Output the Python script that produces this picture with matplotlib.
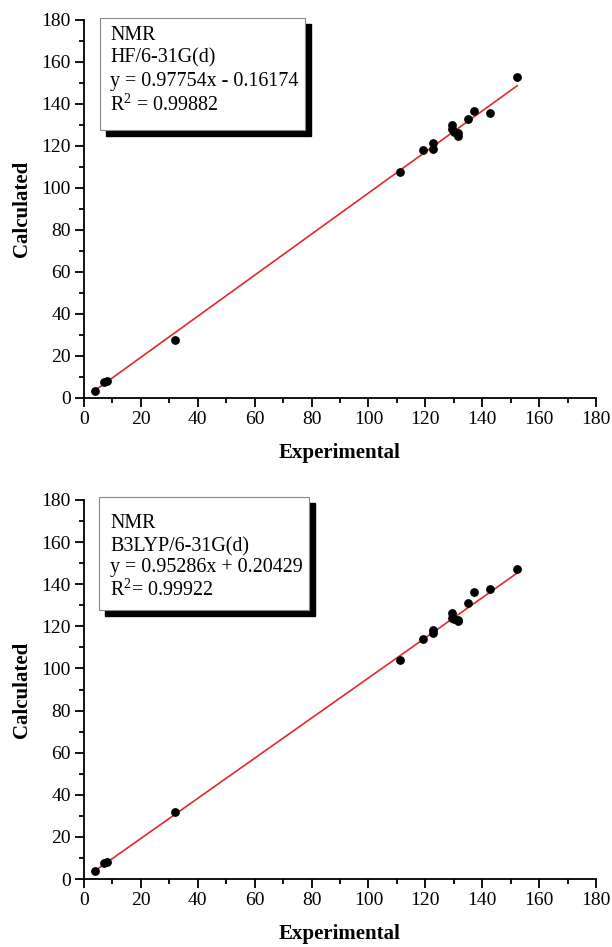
import matplotlib
matplotlib.use("Agg")
import matplotlib.pyplot as plt
import numpy as np
from matplotlib.patches import Rectangle
from matplotlib.ticker import MultipleLocator

plt.rcParams['font.family'] = ['Liberation Serif', 'DejaVu Serif']
plt.rcParams['mathtext.fontset'] = 'custom'
plt.rcParams['mathtext.rm'] = 'Liberation Serif'

experimental = [4, 7, 8, 32, 111, 119.3, 122.6, 122.8, 129.2, 129.2, 130.1, 131.4, 131.4, 135, 137, 142.8, 152.3]
calc_hf = [3.2, 7.5, 8.0, 27.5, 107.5, 118.1, 118.4, 121.3, 130.0, 128.0, 126.8, 126.0, 124.8, 132.7, 136.7, 135.9, 153.0]
calc_b3lyp = [4.0, 7.6, 8.0, 31.6, 104.0, 114.0, 116.6, 118.2, 126.5, 123.8, 123.4, 123.0, 122.4, 131.2, 136.1, 137.6, 147.1]

fit_hf = (0.97754, -0.16174)
fit_b3lyp = (0.95286, 0.20429)

panels = [
    dict(calc=calc_hf, fit=fit_hf,
         lines=["NMR", "HF/6-31G(d)", "y = 0.97754x - 0.16174", r"R$^2$ = 0.99882"],
         rect=[84/612, 1-398/947, 512/612, 378/947],
         box=(0.031, 0.709, 0.432, 1.005),
         ty=[0.960, 0.899, 0.836, 0.775]),
    dict(calc=calc_b3lyp, fit=fit_b3lyp,
         lines=["NMR", "B3LYP/6-31G(d)", "y = 0.95286x + 0.20429", r"R$^2$= 0.99922"],
         rect=[84/612, 1-879/947, 512/612, 379/947],
         box=(0.029, 0.710, 0.439, 1.008),
         ty=[0.939, 0.876, 0.821, 0.763]),
]

fig = plt.figure(figsize=(6.12, 9.47), dpi=100)

for p in panels:
    ax = fig.add_axes(p['rect'])
    ax.set_xlim(0, 180)
    ax.set_ylim(0, 180)
    for s in ['top', 'right']:
        ax.spines[s].set_visible(False)
    for s in ['left', 'bottom']:
        ax.spines[s].set_linewidth(1.3)
    ax.xaxis.set_major_locator(MultipleLocator(20))
    ax.xaxis.set_minor_locator(MultipleLocator(10))
    ax.yaxis.set_major_locator(MultipleLocator(20))
    ax.yaxis.set_minor_locator(MultipleLocator(10))
    ax.tick_params(which='major', direction='out', length=6.5, width=1.3, labelsize=14, pad=3)
    ax.tick_params(which='minor', direction='out', length=3.5, width=1.3)

    x = np.array(experimental)
    a, b = p['fit']
    xs = np.array([x.min(), x.max()])
    ax.plot(xs, a*xs + b, color='#e8262b', lw=1.2, zorder=2)
    ax.scatter(x, p['calc'], s=28, color='black', zorder=3)

    ax.set_xlabel('Experimental', fontsize=15, fontweight='bold', labelpad=11)
    ax.set_ylabel('Calculated', fontsize=15, fontweight='bold', labelpad=7)

    x0, y0, x1, y1 = p['box']
    dx, dy = 6/512, -6/378
    ax.add_patch(Rectangle((x0+dx, y0+dy), x1-x0, y1-y0, transform=ax.transAxes,
                           facecolor='black', edgecolor='black', clip_on=False, zorder=4))
    ax.add_patch(Rectangle((x0, y0), x1-x0, y1-y0, transform=ax.transAxes,
                           facecolor='white', edgecolor='#888888', lw=0.8, clip_on=False, zorder=5))
    for t, yy in zip(p['lines'], p['ty']):
        ax.text(0.051, yy, t, transform=ax.transAxes, fontsize=14.4, va='center', ha='left', zorder=6)

fig.savefig('out.png', dpi=100)
